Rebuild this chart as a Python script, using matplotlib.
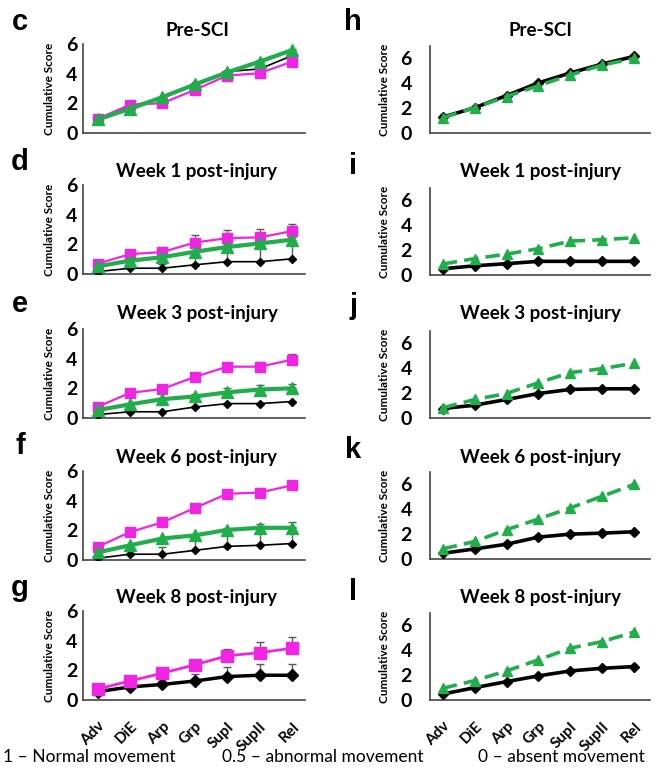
import matplotlib.pyplot as plt
import numpy as np

plt.rcParams['font.family'] = ['Lato', 'DejaVu Sans']

steps = ["Adv", "DiE", "Arp", "Grp", "SupI", "SupII", "Rel"]

# left column: black / magenta / green groups, mean and upper error
c_black = [0.96, 1.79, 2.37, 3.31, 4.14, 4.32, 5.21]
c_mag = [0.96, 1.90, 2.01, 2.91, 3.87, 4.03, 4.81]
c_green = [0.92, 1.63, 2.42, 3.27, 4.09, 4.81, 5.59]
c_black_err = [0, 0, 0, 0, 0.05, 0.08, 0.05]
c_mag_err = [0, 0, 0, 0, 0, 0, 0]
c_green_err = [0, 0, 0, 0, 0, 0.1, 0.05]

d_black = [0.16, 0.39, 0.39, 0.62, 0.83, 0.83, 1.02]
d_mag = [0.69, 1.34, 1.48, 2.12, 2.42, 2.47, 2.89]
d_green = [0.51, 0.90, 1.13, 1.50, 1.82, 2.06, 2.31]
d_black_err = [0, 0, 0.3, 0.9, 1.2, 1.3, 1.5]
d_mag_err = [0.05, 0.2, 0.35, 0.5, 0.55, 0.55, 0.5]
d_green_err = [0, 0, 0, 0, 0, 0, 0]

e_black = [0.23, 0.42, 0.42, 0.74, 0.97, 0.97, 1.11]
e_mag = [0.76, 1.69, 1.96, 2.77, 3.46, 3.46, 3.93]
e_green = [0.53, 0.92, 1.27, 1.45, 1.73, 1.92, 2.00]
e_black_err = [0, 0, 0, 0, 0, 0, 0]
e_mag_err = [0.05, 0.08, 0.12, 0.2, 0.25, 0.3, 0.4]
e_green_err = [0, 0, 0.1, 0.2, 0.28, 0.32, 0.3]

f_black = [0.12, 0.39, 0.39, 0.65, 0.92, 0.99, 1.11]
f_mag = [0.88, 1.89, 2.54, 3.51, 4.46, 4.55, 5.03]
f_green = [0.51, 0.99, 1.45, 1.66, 2.03, 2.17, 2.17]
f_black_err = [0, 0, 0.5, 0.9, 1.1, 1.2, 1.1]
f_mag_err = [0, 0, 0.08, 0.1, 0.1, 0.1, 0.1]
f_green_err = [0, 0, 0, 0, 0.1, 0.25, 0.37]

g_black = [0.56, 0.88, 1.05, 1.28, 1.58, 1.67, 1.67]
g_mag = [0.74, 1.28, 1.81, 2.37, 2.98, 3.19, 3.49]
g_black_err = [0, 0.05, 0.23, 0.47, 0.67, 0.74, 0.74]
g_mag_err = [0, 0.16, 0.16, 0.3, 0.47, 0.7, 0.74]

# right column: solid black vs dashed green
h_black = [1.28, 2.03, 3.01, 4.03, 4.83, 5.55, 6.16]
h_green = [1.23, 2.03, 2.93, 3.81, 4.67, 5.47, 6.00]
i_black = [0.50, 0.74, 0.91, 1.10, 1.10, 1.10, 1.10]
i_green = [0.88, 1.32, 1.68, 2.12, 2.73, 2.84, 3.00]
j_black = [0.76, 1.03, 1.49, 1.97, 2.30, 2.35, 2.35]
j_green = [0.81, 1.49, 1.97, 2.84, 3.65, 3.97, 4.41]
k_black = [0.46, 0.81, 1.19, 1.76, 2.00, 2.08, 2.19]
k_green = [0.81, 1.41, 2.35, 3.22, 4.11, 5.05, 6.00]
l_black = [0.48, 0.99, 1.48, 1.94, 2.34, 2.55, 2.69]
l_green = [0.94, 1.56, 2.34, 3.23, 4.17, 4.70, 5.46]

titles = ["Pre-SCI", "Week 1 post-injury", "Week 3 post-injury",
          "Week 6 post-injury", "Week 8 post-injury"]
left_letters = ["c", "d", "e", "f", "g"]
right_letters = ["h", "i", "j", "k", "l"]

MAG = "#f224e4"
GREEN = "#1fae4a"
ERR = "#5a5a5a"

W, H = 670, 774
fig = plt.figure(figsize=(W / 100, H / 100), dpi=100)


def px_axes(x0, x1, ytop, ybot):
    return fig.add_axes([x0 / W, 1 - ybot / H, (x1 - x0) / W, (ybot - ytop) / H])


def style(ax, ymax, pad, last):
    for s in ["top", "right"]:
        ax.spines[s].set_visible(False)
    for s in ["left", "bottom"]:
        ax.spines[s].set_color("#444444")
        ax.spines[s].set_linewidth(1.2)
    ax.set_ylim(0, ymax)
    ax.set_yticks([0, 2, 4, 6])
    ax.tick_params(axis="y", length=0, pad=pad, labelsize=14)
    ax.tick_params(axis="x", length=0)
    for t in ax.get_yticklabels():
        t.set_fontweight("bold")
    ax.set_xticks(range(len(steps)))
    if last:
        ax.set_xticklabels(steps, rotation=45, ha="right", va="top",
                           rotation_mode="anchor", fontsize=11, fontweight="bold")
        ax.tick_params(axis="x", pad=14)
    else:
        ax.set_xticklabels([])


def upper_err(ax, y, err):
    ax.errorbar(x, y, yerr=[np.zeros(len(y)), err], fmt="none", ecolor=ERR,
                elinewidth=1, capsize=3, capthick=1, zorder=1)


x = np.arange(len(steps))

left_rows = [
    (c_black, c_black_err, c_mag, c_mag_err, c_green, c_green_err),
    (d_black, d_black_err, d_mag, d_mag_err, d_green, d_green_err),
    (e_black, e_black_err, e_mag, e_mag_err, e_green, e_green_err),
    (f_black, f_black_err, f_mag, f_mag_err, f_green, f_green_err),
    (g_black, g_black_err, g_mag, g_mag_err, None, None),
]
right_rows = [(h_black, h_green), (i_black, i_green), (j_black, j_green),
              (k_black, k_green), (l_black, l_green)]

left_bot = [133, 274, 418, 560, 700]
right_bot = [133, 275, 418, 559, 700]
title_y = [30, 172, 314, 457, 598]
left_letter_y = [22, 162, 304, 446, 588]
right_letter_y = [22, 166, 306, 450, 592]

for r, (bk, bke, mg, mge, gr, gre) in enumerate(left_rows):
    ax = px_axes(83, 305, left_bot[r] - 89, left_bot[r])
    last = r == 4
    upper_err(ax, bk, bke)
    upper_err(ax, mg, mge)
    if gr is not None:
        upper_err(ax, gr, gre)
    ax.plot(x, bk, color="black", lw=2.5 if last else 1.2, marker="D",
            ms=6 if last else 4.5, zorder=3)
    ax.plot(x, mg, color=MAG, lw=2 if last else 1.6, marker="s",
            ms=8 if last else 6.5, zorder=4)
    if gr is not None:
        ax.plot(x, gr, color=GREEN, lw=3, marker="^", ms=8.5, zorder=5)
    ax.set_xlim(-0.45, 6.4)
    style(ax, 6, 4, last)
    ax.set_ylabel("Cumulative Score", fontsize=8.5, fontweight="bold")
    ax.yaxis.set_label_coords(-28 / 222, 0.5)
    fig.text(197 / W, 1 - title_y[r] / H, titles[r], ha="center", va="center",
             fontsize=13.5, fontweight="bold")
    fig.text(20 / W, 1 - left_letter_y[r] / H, left_letters[r], ha="center", va="center",
             fontsize=21, fontweight="bold", family="Liberation Sans")

for r, (bk, gr) in enumerate(right_rows):
    ax = px_axes(430, 650, right_bot[r] - 87, right_bot[r])
    last = r == 4
    ax.plot(x, bk, color="black", lw=2.6, marker="D", ms=5.5, zorder=3)
    ax.plot(x, gr, color=GREEN, lw=2.6, ls=(0, (4, 2)), marker="^", ms=7.5, zorder=4)
    ax.set_xlim(-0.4, 6.5)
    style(ax, 7, 13, last)
    ax.set_ylabel("Cumulative Score", fontsize=8.5, fontweight="bold")
    ax.yaxis.set_label_coords(-40 / 220, 0.5)
    fig.text(540 / W, 1 - title_y[r] / H, titles[r], ha="center", va="center",
             fontsize=13.5, fontweight="bold")
    fig.text(353 / W, 1 - right_letter_y[r] / H, right_letters[r], ha="center", va="center",
             fontsize=21, fontweight="bold", family="Liberation Sans")

fig.text(3 / W, 1 - 757 / H, "1 \u2013 Normal movement", ha="left", va="center", fontsize=12.5)
fig.text(222 / W, 1 - 757 / H, "0.5 \u2013 abnormal movement", ha="left", va="center", fontsize=12.5)
fig.text(478 / W, 1 - 757 / H, "0 \u2013 absent movement", ha="left", va="center", fontsize=12.5)

fig.savefig("out.png", dpi=100)
